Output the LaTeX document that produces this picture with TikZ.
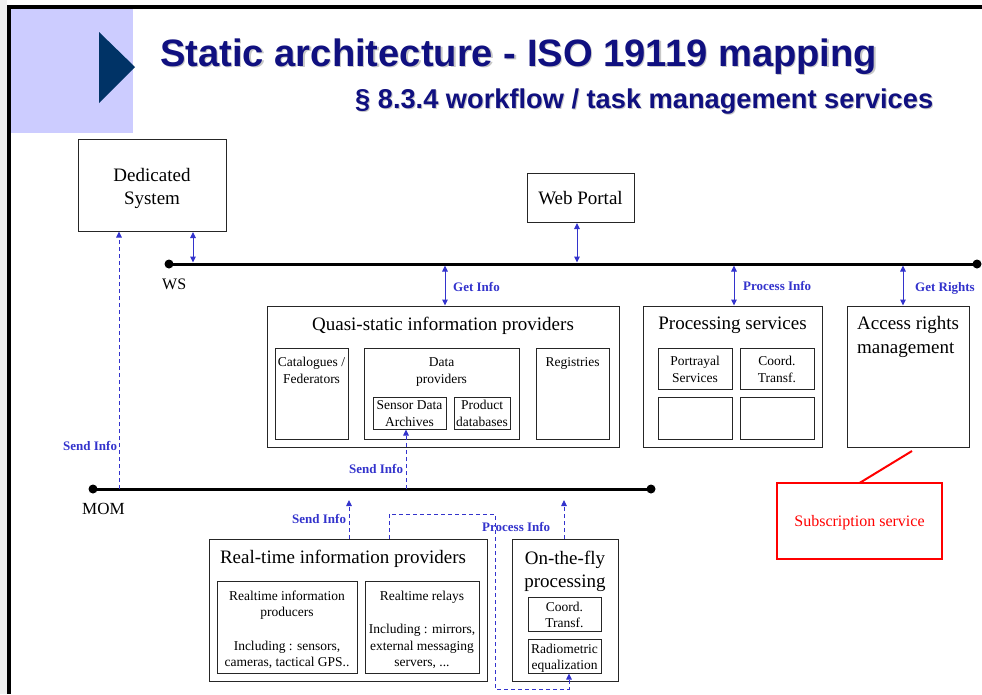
\documentclass[tikz,border=0pt]{standalone}
\usepackage{fontspec}
\setmainfont{Liberation Serif}
\newfontfamily\headfont{Liberation Sans}
\usetikzlibrary{arrows.meta}
\definecolor{lav}{RGB}{204,204,255}
\definecolor{tri}{RGB}{0,51,102}
\definecolor{navy}{RGB}{16,16,128}
\definecolor{ablue}{RGB}{51,51,204}
\definecolor{edgegray}{RGB}{240,240,240}
\definecolor{subred}{RGB}{255,0,0}

% box with its top-left corner at (x1,y1) and bottom-right corner at (x2,y2)
\newcommand\mkbox[6][box]{%
  \node[#1, minimum width={(#5-#3)*1pt}, minimum height={(#6-#4)*1pt}] (#2) at (#3,#4) {};}

\begin{document}
\begin{tikzpicture}[x=1pt,y=-1pt,
  box/.style={draw=black!85, line width=1pt, inner sep=0pt, outer sep=0pt, anchor=north west},
  subbox/.style={box, line width=0.9pt},
  redbox/.style={box, draw=subred, line width=2.2pt},
  big/.style={font=\fontsize{19}{23}\selectfont, inner sep=0pt, anchor=base},
  small/.style={font=\fontsize{13.5}{16}\selectfont, inner sep=0pt, anchor=base},
  lbl/.style={font=\fontsize{13}{15}\selectfont\bfseries, text=ablue, inner sep=0pt, anchor=base west},
  busname/.style={font=\fontsize{17}{20}\selectfont, inner sep=0pt, anchor=base west},
  bus/.style={line width=3pt},
  biarr/.style={ablue, line width=1pt, shorten <=1pt, shorten >=1.5pt,
    {Triangle[length=6pt,width=5.5pt]}-{Triangle[length=6pt,width=5.5pt]}},
  dasharr/.style={ablue, line width=0.9pt, dash pattern=on 4pt off 3pt,
    -{Triangle[length=6pt,width=5.5pt]}},
]
\useasboundingbox (0,0) rectangle (982,694);

% slide frame and header
\fill[edgegray] (0,0) rectangle (7,694);
\fill[lav] (11,9) rectangle (133,133);
\fill (7,5) rectangle (982,9);
\fill (7,5) rectangle (11,694);
\fill[tri] (99,32) -- (135,67) -- (99,103) -- cycle;

\node[anchor=base west, inner sep=0pt, text=black!22] (titleshadow) at (161.2,67.2)
  {\resizebox{717pt}{!}{\headfont\bfseries\fontsize{38}{40}\selectfont Static architecture - ISO 19119 mapping}};
\node[anchor=base west, inner sep=0pt, text=navy] (title) at (160,66)
  {\resizebox{717pt}{!}{\headfont\bfseries\fontsize{38}{40}\selectfont Static architecture - ISO 19119 mapping}};
\node[anchor=base west, inner sep=0pt, text=black!22] (subtitleshadow) at (356,109)
  {\resizebox{578pt}{!}{\headfont\bfseries\fontsize{28}{30}\selectfont § 8.3.4 workflow / task management services}};
\node[anchor=base west, inner sep=0pt, text=navy] (subtitle) at (355,108)
  {\resizebox{578pt}{!}{\headfont\bfseries\fontsize{28}{30}\selectfont § 8.3.4 workflow / task management services}};

% top-level systems
\mkbox{ds}{78}{139}{226}{231}
\node[big] (dsA) at (152,181) {Dedicated};
\node[big] (dsB) at (152,204) {System};
\mkbox{wp}{527}{173}{634}{222}
\node[big] (wpA) at (580.5,204) {Web Portal};

% WS bus
\coordinate (wsL) at (169,264);
\coordinate (wsR) at (977,264);
\draw[bus] (wsL) -- (wsR);
\fill (wsL) circle (4.5);
\fill (wsR) circle (4.5);
\node[busname, font=\fontsize{16}{18}\selectfont] (wsname) at (162,289) {WS};

% quasi-static information providers
\mkbox{qs}{267}{306}{619}{447}
\node[big] (qsT) at (443,330) {Quasi-static information providers};
\mkbox[subbox]{cat}{275}{348}{348}{439}
\node[small] (catA) at (311.5,366) {Catalogues /};
\node[small] (catB) at (311.5,383) {Federators};
\mkbox[subbox]{dp}{364}{348}{519}{439}
\node[small] (dpA) at (441.5,366) {Data};
\node[small] (dpB) at (441.5,383) {providers};
\mkbox[subbox]{sda}{373}{397}{446}{429}
\node[small] (sdaA) at (409.5,409) {Sensor Data};
\node[small] (sdaB) at (409.5,426) {Archives};
\mkbox[subbox]{pdb}{454}{397}{510}{429}
\node[small] (pdbA) at (482,409) {Product};
\node[small] (pdbB) at (482,426) {databases};
\mkbox[subbox]{reg}{536}{348}{609}{439}
\node[small] (regA) at (572.5,366) {Registries};

% processing services
\mkbox{ps}{643}{306}{822}{447}
\node[big] (psT) at (732.5,329) {Processing services};
\mkbox[subbox]{por}{658}{348}{732}{389}
\node[small] (porA) at (695,365) {Portrayal};
\node[small] (porB) at (695,382) {Services};
\mkbox[subbox]{ct}{740}{348}{814}{389}
\node[small] (ctA) at (777,365) {Coord.};
\node[small] (ctB) at (777,382) {Transf.};
\mkbox[subbox]{e1}{658}{397}{732}{439}
\mkbox[subbox]{e2}{740}{397}{814}{439}

% access rights management
\mkbox{ar}{847}{306}{969}{447}
\node[big, anchor=base west] (arA) at (857,329) {Access rights};
\node[big, anchor=base west] (arB) at (857,353) {management};

% WS connections
\coordinate (wsA) at (193,264);
\coordinate (wsB) at (577,264);
\coordinate (wsC) at (445,264);
\coordinate (wsD) at (734,264);
\coordinate (wsE) at (903,264);
\draw[biarr] (wsA |- ds.south) -- (wsA);
\draw[biarr] (wsB |- wp.south) -- (wsB);
\draw[biarr, shorten <=1.5pt, shorten >=0.5pt] (wsC) -- (wsC |- qs.north);
\draw[biarr, shorten <=1.5pt, shorten >=0.5pt] (wsD) -- (wsD |- ps.north);
\draw[biarr, shorten <=1.5pt, shorten >=0.5pt] (wsE) -- (wsE |- ar.north);
\node[lbl] (getinfo) at (453,291) {Get Info};
\node[lbl] (procinfo) at (743,290) {Process Info};
\node[lbl] (getrights) at (915,291) {Get Rights};

% MOM bus
\coordinate (momL) at (93,489);
\coordinate (momR) at (651,489);
\draw[bus] (momL) -- (momR);
\fill (momL) circle (4.5);
\fill (momR) circle (4.5);
\node[busname] (momname) at (82,514) {MOM};

% real-time information providers
\mkbox{rt}{209}{539}{487}{681}
\node[big] (rtT) at (343,563) {Real-time information providers};
\mkbox[subbox]{rip}{217}{581}{357}{673}
\node[small] (ripA) at (287,600) {Realtime information};
\node[small] (ripB) at (287,616) {producers};
\node[small] (ripC) at (287,650) {Including : sensors,};
\node[small] (ripD) at (287,666) {cameras, tactical GPS..};
\mkbox[subbox]{rr}{365}{581}{479}{673}
\node[small] (rrA) at (422,600) {Realtime relays};
\node[small] (rrB) at (422,633) {Including : mirrors,};
\node[small] (rrC) at (422,650) {external messaging};
\node[small] (rrD) at (422,666) {servers, ...};

% on-the-fly processing
\mkbox{otf}{512}{539}{618}{681}
\node[big] (otfA) at (565,564) {On-the-fly};
\node[big] (otfB) at (565,587) {processing};
\mkbox[subbox]{oct}{528}{597}{601}{631}
\node[small] (octA) at (564.5,611) {Coord.};
\node[small] (octB) at (564.5,627) {Transf.};
\mkbox[subbox]{rad}{528}{639}{601}{673}
\node[small] (radA) at (564.5,653) {Radiometric};
\node[small] (radB) at (564.5,669) {equalization};

% MOM connections
\coordinate (momA) at (119,489);
\coordinate (momB) at (406,489);
\coordinate (sb) at (349,500);
\coordinate (ob) at (564,500);
\coordinate (pr1) at (389,514);
\coordinate (pr2) at (495,514);
\coordinate (pr3) at (495,689);
\coordinate (pr4) at (569,689);
\draw[dasharr, shorten >=0.5pt] (momA) -- (momA |- ds.south);
\draw[dasharr, shorten >=0.5pt] (momB) -- (momB |- sda.south);
\draw[dasharr] (sb |- rt.north) -- (sb);
\draw[dasharr] (ob |- otf.north) -- (ob);
\draw[dasharr, shorten >=0.5pt] (pr1 |- rt.north) -- (pr1) -- (pr2) -- (pr3) -- (pr4) -- (pr4 |- rad.south);
\node[lbl] (sendA) at (63,450) {Send Info};
\node[lbl] (sendB) at (349,473) {Send Info};
\node[lbl] (sendC) at (292,523) {Send Info};
\node[lbl] (procB) at (482,531) {Process Info};

% subscription service note
\mkbox[redbox]{sub}{777}{483}{942}{559}
\node[inner sep=0pt, anchor=base, text=subred, font=\fontsize{16}{18}\selectfont] (subT) at (859.5,526) {Subscription service};
\coordinate (subTip) at (912,451);
\draw[subred, line width=2pt] (subTip) -- (sub.north);
\end{tikzpicture}
\end{document}
